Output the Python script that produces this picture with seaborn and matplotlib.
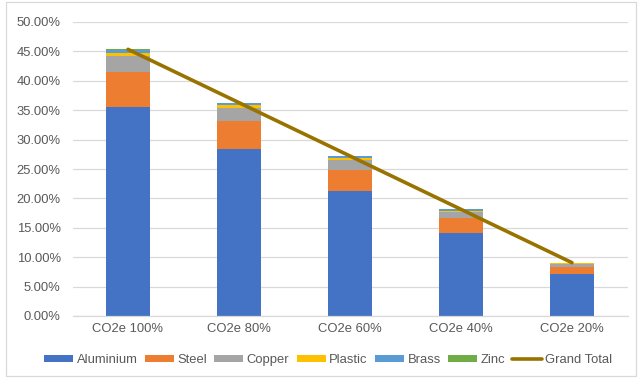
import numpy as np
import pandas as pd
import matplotlib
matplotlib.use("Agg")
import matplotlib.pyplot as plt
from matplotlib.patches import Patch, Rectangle
from matplotlib.lines import Line2D
from matplotlib.ticker import FuncFormatter, MultipleLocator
import seaborn as sns

# Scenario categories
scenarios = ["CO2e 100%", "CO2e 80%", "CO2e 60%", "CO2e 40%", "CO2e 20%"]

# Material shares (%) per scenario
aluminium = [35.50, 28.40, 21.30, 14.20, 7.10]
steel = [6.00, 4.80, 3.60, 2.40, 1.20]
copper = [2.70, 2.16, 1.62, 1.08, 0.54]
plastic = [0.60, 0.48, 0.36, 0.24, 0.12]
brass = [0.50, 0.40, 0.30, 0.20, 0.10]
zinc = [0.05, 0.04, 0.03, 0.02, 0.01]
grand_total = [45.35, 36.28, 27.21, 18.14, 9.07]

materials = ["Aluminium", "Steel", "Copper", "Plastic", "Brass", "Zinc"]
series = [aluminium, steel, copper, plastic, brass, zinc]
colors = ["#4472C4", "#ED7D31", "#A5A5A5", "#FFC000", "#5B9BD5", "#70AD47"]
total_color = "#997300"

sns.set_theme(style="white")
plt.rcParams["font.family"] = ["Liberation Sans", "DejaVu Sans"]
text_color = "#595959"
grid_color = "#D9D9D9"
fs = 9.4

fig = plt.figure(figsize=(6.41, 3.78), dpi=100)
ax = fig.add_axes([72.5 / 641, 62 / 378, 555 / 641, 294 / 378])

# Stacked bars: draw cumulative heights from the top segment down
cum = np.cumsum(np.array(series), axis=0)
for i in range(len(materials) - 1, -1, -1):
    df = pd.DataFrame({"scenario": scenarios, "value": cum[i]})
    sns.barplot(data=df, x="scenario", y="value", color=colors[i],
                saturation=1, width=0.40, order=scenarios, ax=ax,
                edgecolor="none", linewidth=0, zorder=2)

# Grand total line across bar centres
line_df = pd.DataFrame({"pos": np.arange(len(scenarios)), "total": grand_total})
sns.lineplot(data=line_df, x="pos", y="total", color=total_color,
             linewidth=2.6, sort=False, ax=ax, zorder=3)

ax.set_xlim(-0.5, len(scenarios) - 0.5)
ax.set_ylim(0, 50)
ax.yaxis.set_major_locator(MultipleLocator(5))
ax.yaxis.set_major_formatter(FuncFormatter(lambda v, _: f"{v:.2f}%"))
ax.set_xticks(range(len(scenarios)))
ax.set_xticklabels(scenarios)
ax.set_xlabel("")
ax.set_ylabel("")

ax.grid(axis="y", color=grid_color, linewidth=0.9, zorder=0)
ax.set_axisbelow(True)
for s in ["top", "right", "left"]:
    ax.spines[s].set_visible(False)
ax.spines["bottom"].set_color(grid_color)
ax.spines["bottom"].set_linewidth(0.9)
ax.tick_params(axis="y", length=0, pad=8.5, labelsize=fs, labelcolor=text_color)
ax.tick_params(axis="x", length=0, pad=5, labelsize=fs, labelcolor=text_color)

handles = [Patch(facecolor=c, edgecolor="none", label=m) for m, c in zip(materials, colors)]
handles.append(Line2D([0], [0], color=total_color, linewidth=2.6, label="Grand Total"))
leg = fig.legend(handles=handles, loc="center", bbox_to_anchor=(328 / 641, 18 / 378),
                 ncol=7, frameon=False, fontsize=fs, handlelength=2.25,
                 handleheight=0.5, handletextpad=0.25, columnspacing=0.55,
                 labelcolor=text_color, borderpad=0)

# Outer chart border
fig.patches.append(Rectangle((6 / 641, 2 / 378), 630 / 641, 374 / 378,
                             transform=fig.transFigure, fill=False,
                             edgecolor=grid_color, linewidth=0.9))

fig.savefig("out.png", dpi=100)
